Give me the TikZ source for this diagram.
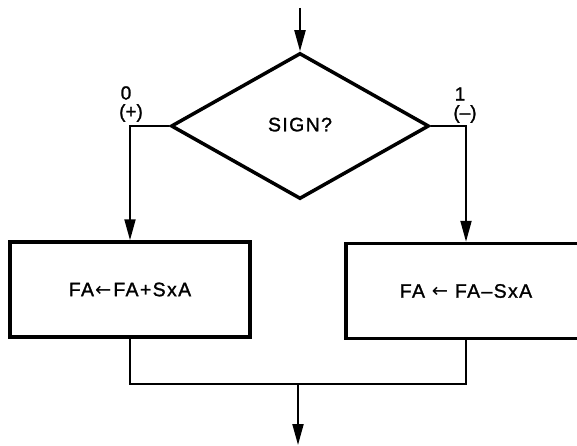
\documentclass[tikz,border=0pt]{standalone}
\usepackage{fontspec}
\setmainfont{Liberation Sans}[FakeBold=1.3]
\newfontfamily\arrfont{DejaVu Sans}
\newcommand{\larr}{{\arrfont ←}}
\usetikzlibrary{shapes.geometric,arrows.meta}
\begin{document}
\begin{tikzpicture}[x=1pt,y=-1pt,
  txt/.style={font=\fontsize{19.5}{22}\selectfont\addfontfeature{LetterSpace=7}},
  dec/.style={draw,diamond,line width=3.5pt,minimum width=258pt,minimum height=146pt,inner sep=0pt,txt},
  opbox/.style={draw,rectangle,line width=3.5pt,minimum width=240pt,minimum height=95pt,txt},
  flow/.style={line width=2pt,-{Triangle[length=21pt,width=11pt]}},
  link/.style={line width=2pt},
  lbl/.style={inner sep=0pt,font=\fontsize{19}{21}\selectfont}]
\useasboundingbox (0,0) rectangle (577,446);
\clip (0,0) rectangle (577,446);
\node[dec] (sign) at (300,126) {\raisebox{3pt}{SIGN?}};
\node[opbox] (plus) at (130,289.5) {FA\kern1pt\larr\kern2pt FA+SxA};
\node[opbox] (minus) at (466,291) {FA \larr\ FA–SxA};
\coordinate (top) at (300,8);
\coordinate (join) at (298,384);
\coordinate (out) at (298,445);
\draw[flow] (top) -- (sign.north);
\draw[flow] (sign.west) -| (plus.north);
\draw[flow] (sign.east) -| (minus.north);
\draw[link] (plus.south) -- (plus.south |- join) -- (minus.south |- join) -- (minus.south);
\draw[flow] (join) -- (out);
\node[lbl] (zero) at (126,93) {0};
\node[lbl] (pos) at (131,113) {(+)};
\node[lbl] (one) at (460,94) {1};
\node[lbl] (neg) at (465,114) {(–)};
\end{tikzpicture}
\end{document}
